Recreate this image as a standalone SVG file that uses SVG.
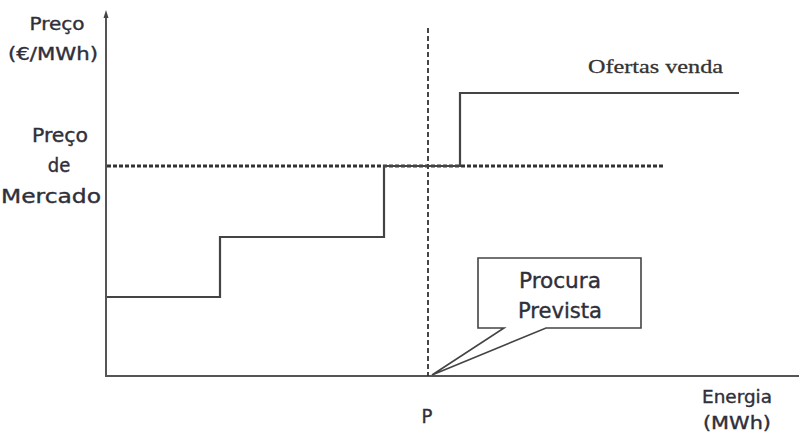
<svg xmlns="http://www.w3.org/2000/svg" width="799" height="434" viewBox="0 0 799 434">
  <style>
    .axis { stroke: #555; stroke-width: 2; fill: none; }
    .curve { stroke: #444; stroke-width: 2.2; fill: none; }
    .dash { stroke: #333; stroke-width: 3; stroke-dasharray: 4 2; fill: none; }
    .vdash { stroke: #333; stroke-width: 1.8; stroke-dasharray: 5 3; fill: none; }
    .lbl { font-family: "DejaVu Sans Condensed", "DejaVu Sans", "Liberation Sans", sans-serif; fill: #2f2f3a; stroke: #2f2f3a; stroke-width: 0.35; text-anchor: middle; }
    .serif { font-family: "Liberation Serif", serif; fill: #333; stroke: #333; stroke-width: 0.3; }
    .box { stroke: #444; stroke-width: 1.6; fill: #fff; }
  </style>
  <rect width="799" height="434" fill="#fff"/>

  <g id="axes">
    <line class="axis" x1="106" y1="14" x2="106" y2="376"/>
    <path d="M103.5 18 L106 10 L108.5 18 Z" fill="#444"/>
    <line class="axis" x1="105" y1="376" x2="799" y2="376"/>
  </g>

  <g id="axis-labels">
    <text class="lbl" x="57" y="30" font-size="18" textLength="55" lengthAdjust="spacingAndGlyphs">Preço</text>
    <text class="lbl" x="53" y="60" font-size="18" textLength="90" lengthAdjust="spacingAndGlyphs">(€/MWh)</text>
    <text class="lbl" x="60" y="142" font-size="20" textLength="56" lengthAdjust="spacingAndGlyphs">Preço</text>
    <text class="lbl" x="59" y="172" font-size="20">de</text>
    <text class="lbl" x="51" y="203" font-size="20" textLength="100" lengthAdjust="spacingAndGlyphs">Mercado</text>
    <text class="lbl" x="427" y="423" font-size="20">P</text>
    <text class="lbl" x="737" y="403" font-size="18" textLength="70" lengthAdjust="spacingAndGlyphs">Energia</text>
    <text class="lbl" x="737" y="429" font-size="18" textLength="68" lengthAdjust="spacingAndGlyphs">(MWh)</text>
  </g>

  <g id="market-price">
    <line class="dash" x1="107" y1="166" x2="663" y2="166"/>
  </g>

  <g id="forecast-demand">
    <line class="vdash" x1="428" y1="28" x2="428" y2="376"/>
  </g>

  <g id="sale-offers">
    <path class="curve" d="M107 297 H220 V237 H384 V166 H460 V93 H739"/>
    <text class="serif" x="588" y="73" font-size="19" textLength="135" lengthAdjust="spacingAndGlyphs">Ofertas venda</text>
  </g>

  <g id="callout">
    <path class="box" d="M478 258 H641 V328 H546 L432 375 L504 328 H478 Z"/>
    <text class="lbl" x="560" y="288" font-size="21" textLength="82" lengthAdjust="spacingAndGlyphs">Procura</text>
    <text class="lbl" x="560" y="318" font-size="21" textLength="84" lengthAdjust="spacingAndGlyphs">Prevista</text>
  </g>
</svg>
